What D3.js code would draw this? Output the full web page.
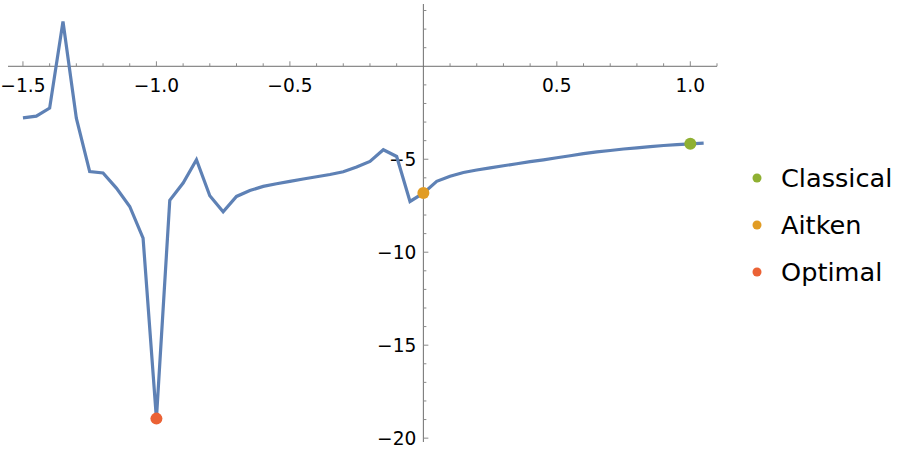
<!DOCTYPE html>
<html>
<head>
<meta charset="utf-8">
<script src="https://cdn.jsdelivr.net/npm/d3@7"></script>
<style>
  html, body { margin: 0; padding: 0; background: #fff; }
  svg { display: block; }
  text { font-family: "DejaVu Sans", sans-serif; }
</style>
</head>
<body>
<svg id="chart" width="904" height="452"></svg>
<script>
// ---- data ----
const xValues = [-1.5, -1.45, -1.4, -1.35, -1.3, -1.25, -1.2, -1.15, -1.1, -1.05,
  -1.0, -0.95, -0.9, -0.85, -0.8, -0.75, -0.7, -0.65, -0.6, -0.55,
  -0.5, -0.45, -0.4, -0.35, -0.3, -0.25, -0.2, -0.15, -0.1, -0.05,
  0.0, 0.05, 0.1, 0.15, 0.2, 0.25, 0.3, 0.35, 0.4, 0.45,
  0.5, 0.55, 0.6, 0.65, 0.7, 0.75, 0.8, 0.85, 0.9, 0.95, 1.0, 1.05];
const yValues = [-2.77, -2.68, -2.25, 2.41, -2.79, -5.66, -5.74, -6.55, -7.54, -9.24,
  -18.95, -7.21, -6.28, -5.03, -6.96, -7.82, -7.0, -6.68, -6.46, -6.32,
  -6.19, -6.06, -5.94, -5.82, -5.67, -5.42, -5.12, -4.49, -4.85, -7.27,
  -6.82, -6.19, -5.91, -5.71, -5.58, -5.46, -5.35, -5.24, -5.13, -5.03,
  -4.92, -4.81, -4.70, -4.60, -4.53, -4.45, -4.39, -4.32, -4.26, -4.21, -4.17, -4.13];
const pointNames = ["Classical", "Aitken", "Optimal"];
const pointX = [1.0, 0.0, -1.0];
const pointY = [-4.17, -6.82, -18.95];
const pointColors = ["#8FB032", "#E19C24", "#EB6235"];
const xTickMajor = [-1.5, -1.0, -0.5, 0.5, 1.0];
const xTickLabels = ["−1.5", "−1.0", "−0.5", "0.5", "1.0"];
const yTickMajor = [-5, -10, -15, -20];
const yTickLabels = ["−5", "−10", "−15", "−20"];

// ---- scales ----
const svg = d3.select("#chart");
const x = d3.scaleLinear().domain([-1.556, 1.1]).range([8, 717]);
const y = d3.scaleLinear().domain([3.35, -20.1]).range([4, 440]);

const axisColor = "#6e6e6e";
const tickColor = "#8a8a8a";

// x axis
const xMinor = d3.range(-15, 12).map(d => d / 10).filter(v => !xTickMajor.some(m => Math.abs(m - v) < 1e-9) && Math.abs(v) > 1e-9);
const gx = svg.append("g").attr("transform", `translate(0,${y(0)})`);
gx.append("line").attr("x1", x.range()[0]).attr("x2", x.range()[1])
  .attr("stroke", axisColor).attr("stroke-width", 1);
gx.selectAll(".xmin").data(xMinor).join("line")
  .attr("x1", d => x(d)).attr("x2", d => x(d)).attr("y1", 0).attr("y2", -3)
  .attr("stroke", tickColor).attr("stroke-width", 1);
gx.selectAll(".xmaj").data(xTickMajor).join("line")
  .attr("x1", d => x(d)).attr("x2", d => x(d)).attr("y1", 0).attr("y2", -5)
  .attr("stroke", tickColor).attr("stroke-width", 1);
gx.selectAll(".xlab").data(xTickMajor).join("text")
  .attr("x", d => x(d)).attr("y", 26)
  .attr("text-anchor", "middle").attr("font-size", 18.6).attr("fill", "#000")
  .text((d, i) => xTickLabels[i]);

// y axis
const yMinor = d3.range(-20, 4).filter(v => v !== 0 && !yTickMajor.includes(v));
const gy = svg.append("g").attr("transform", `translate(${x(0)},0)`);
gy.append("line").attr("y1", y.range()[0]).attr("y2", y.range()[1] + 2)
  .attr("stroke", axisColor).attr("stroke-width", 1);
gy.selectAll(".ymin").data(yMinor).join("line")
  .attr("y1", d => y(d)).attr("y2", d => y(d)).attr("x1", 0).attr("x2", 3)
  .attr("stroke", tickColor).attr("stroke-width", 1);
gy.selectAll(".ymaj").data(yTickMajor).join("line")
  .attr("y1", d => y(d)).attr("y2", d => y(d)).attr("x1", 0).attr("x2", 5)
  .attr("stroke", tickColor).attr("stroke-width", 1);
gy.selectAll(".ylab").data(yTickMajor).join("text")
  .attr("x", -7).attr("y", d => y(d)).attr("dy", "0.36em")
  .attr("text-anchor", "end").attr("font-size", 18.6).attr("fill", "#000")
  .text((d, i) => yTickLabels[i]);

// line
const line = d3.line().x((d, i) => x(xValues[i])).y(d => y(d));
svg.append("path").datum(yValues)
  .attr("d", line).attr("fill", "none")
  .attr("stroke", "#5E81B5").attr("stroke-width", 3.2)
  .attr("stroke-linejoin", "miter").attr("stroke-miterlimit", 4);

// points
svg.selectAll(".pt").data(pointNames).join("circle")
  .attr("cx", (d, i) => x(pointX[i])).attr("cy", (d, i) => y(pointY[i]))
  .attr("r", 6).attr("fill", (d, i) => pointColors[i]);

// legend
const lg = svg.append("g").attr("transform", "translate(757,178)");
const items = lg.selectAll("g").data(pointNames).join("g")
  .attr("transform", (d, i) => `translate(0,${i * 47})`);
items.append("circle").attr("r", 4.5).attr("fill", (d, i) => pointColors[i]);
items.append("text").attr("x", 24).attr("dy", "0.36em")
  .attr("font-size", 25.6).attr("fill", "#000").text(d => d);
</script>
</body>
</html>
